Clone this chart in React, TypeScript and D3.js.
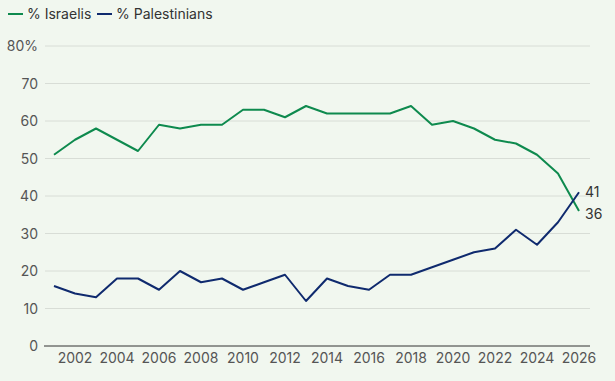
import React from "react";
import * as d3 from "d3";

const years = [2001,2002,2003,2004,2005,2006,2007,2008,2009,2010,2011,2012,2013,2014,2015,2016,2017,2018,2019,2020,2021,2022,2023,2024,2025,2026];
const israelis = [51,55,58,55,52,59,58,59,59,63,63,61,64,62,62,62,62,64,59,60,58,55,54,51,46,36];
const palestinians = [16,14,13,18,18,15,20,17,18,15,17,19,12,18,16,15,19,19,21,23,25,26,31,27,33,41];
const yTicks = [0,10,20,30,40,50,60,70,80];
const xTicks = [2002,2004,2006,2008,2010,2012,2014,2016,2018,2020,2022,2024,2026];

const W = 615, H = 381;
const GREEN = "#0e8a4e";
const NAVY = "#0f2a6e";
const FONT = "Inter, 'Noto Sans', sans-serif";

export default function App() {
  const x = d3.scaleLinear().domain([2001, 2026]).range([54, 579]);
  const y = d3.scaleLinear().domain([0, 80]).range([346, 46]);
  const line = d3.line<number>().x((_, i) => x(years[i])).y(d => y(d));
  const series = [
    { name: "% Israelis", values: israelis, color: GREEN },
    { name: "% Palestinians", values: palestinians, color: NAVY },
  ];
  return (
    <div style={{ position: "fixed", left: 0, top: 0 }}>
      <svg width={W} height={H} style={{ display: "block", background: "#f1f7ef" }} fontFamily={FONT}>
        <rect width={W} height={H} fill="#f1f7ef" />
        {/* legend */}
        <g>
          <line x1={8} x2={23} y1={14} y2={14} stroke={GREEN} strokeWidth={2} />
          <text x={27} y={19} fontSize={14} fill="#333">% Israelis</text>
          <line x1={97} x2={112} y1={14} y2={14} stroke={NAVY} strokeWidth={2} />
          <text x={116} y={19} fontSize={14} fill="#333">% Palestinians</text>
        </g>
        {/* grid */}
        {yTicks.map(t => (
          <g key={t}>
            {t > 0 && <line x1={45} x2={590} y1={y(t)} y2={y(t)} stroke="#d8ddd6" strokeWidth={1} />}
            <text x={38} y={y(t) + 5} fontSize={14} fill="#555" textAnchor="end">{t === 80 ? "80%" : t}</text>
          </g>
        ))}
        <line x1={44} x2={590} y1={y(0)} y2={y(0)} stroke="#333" strokeWidth={1} />
        {xTicks.map(t => (
          <text key={t} x={x(t)} y={363} fontSize={14} fill="#555" textAnchor="middle">{t}</text>
        ))}
        {series.map(s => (
          <path key={s.name} d={line(s.values) || ""} fill="none" stroke={s.color} strokeWidth={2} strokeLinejoin="round" />
        ))}
        <text x={585} y={y(41) + 5} fontSize={14} fill="#333">{palestinians[palestinians.length - 1]}</text>
        <text x={585} y={y(36) + 8} fontSize={14} fill="#333">{israelis[israelis.length - 1]}</text>
      </svg>
    </div>
  );
}
